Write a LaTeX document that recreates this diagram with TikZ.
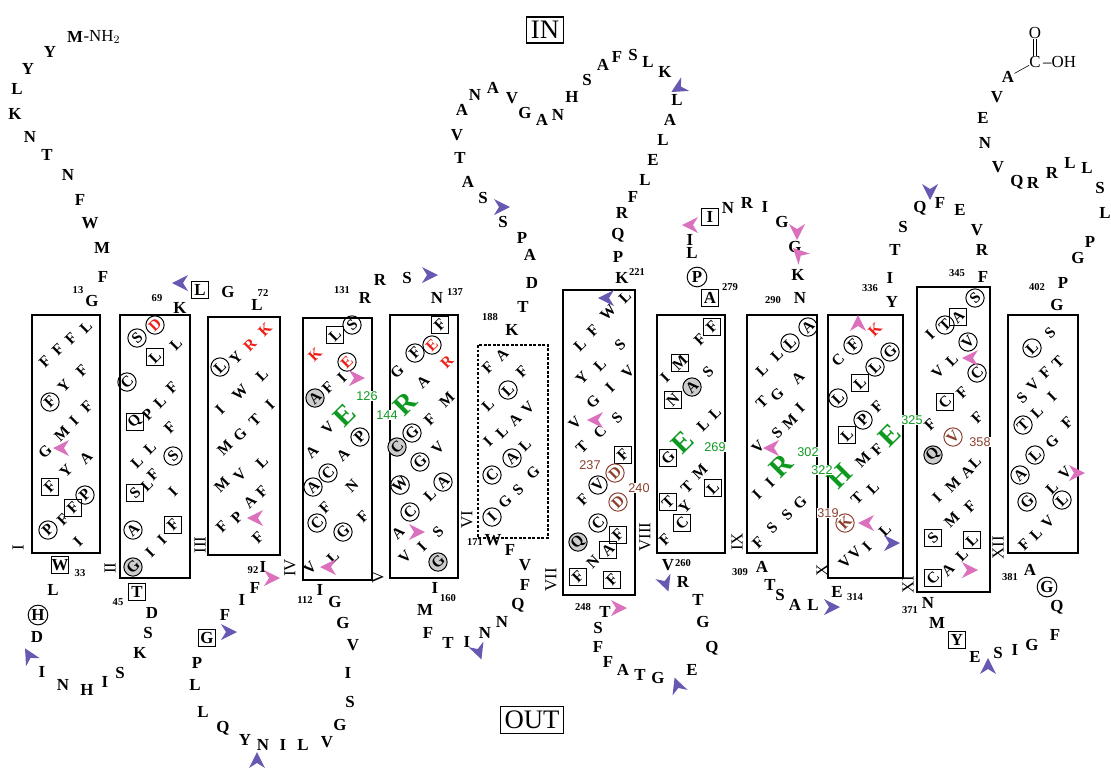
\documentclass[tikz,border=0pt]{standalone}
\usepackage{fontspec}
\setmainfont{Liberation Serif}
\newfontfamily\labelsans{Liberation Sans}
\usetikzlibrary{calc}
\definecolor{SiteClr}{rgb}{0.40,0.35,0.70}
\definecolor{PinkClr}{rgb}{0.86,0.44,0.74}
\definecolor{KeyClr}{rgb}{0.05,0.60,0.12}
\definecolor{ChargeClr}{rgb}{0.93,0.12,0.10}
\definecolor{AcidClr}{rgb}{0.55,0.25,0.18}

\tikzset{
  res/.style={font=\fontsize{12}{12}\selectfont\bfseries,inner sep=0pt},
  tmres/.style={res,font=\fontsize{11}{11}\selectfont\bfseries,rotate=45},
  ring/.style={tmres,circle,draw,line width=.7pt,minimum size=13pt},
  grayring/.style={ring,fill=black!20},
  sqbox/.style={draw,line width=.7pt,minimum size=12pt,inner sep=0pt},
  loopring/.style={res,circle,draw,line width=.7pt,minimum size=14pt},
  num/.style={font=\fontsize{7.5}{8}\selectfont\bfseries,inner sep=0pt},
  keyres/.style={tmres,text=KeyClr,font=\fontsize{20}{20}\selectfont\bfseries},
  keynum/.style={font={\labelsans\fontsize{9}{9}\selectfont},text=KeyClr,fill=white,inner sep=.5pt},
  acidnum/.style={keynum,text=AcidClr},
  helix/.style={line width=1.8pt},
  roman/.style={font=\fontsize{12}{12}\selectfont,rotate=90,inner sep=0pt},
  sidebox/.style={draw,line width=.8pt,font=\fontsize{19}{19}\selectfont,inner sep=3pt},
  site/.pic={\fill (0,-10) -- (8,6) -- (0,1) -- (-8,6) -- cycle;}
}

\begin{document}
\begin{tikzpicture}[x=0.025cm,y=-0.025cm]
\useasboundingbox (0,0) rectangle (1111,771);

\node[sidebox] (in) at (545,30) {IN};
\node[sidebox] (out) at (532,720) {OUT};

% helices
\foreach \l/\t/\r/\b in {32/315/100/553,120/315/190/578,208/317/280/555,303/318/372/580,
  390/315/458/578,563/290/635/595,657/315/725/553,747/315/817/553,828/315/903/578,
  917/287/990/592,1008/315/1078/553}
  \draw[helix] (\l,\t) rectangle (\r,\b);
\draw[helix,dash pattern=on 2pt off 1.2pt] (478,345) rectangle (548,538);

\foreach \x/\y/\t in {18/548/I,110/568/II,200/545/III,290/568/IV,378/577/V,467/520/VI,
  551/580/VII,645/537/VIII,737/542/IX,822/570/X,908/585/XI,998/548/XII}
  \node[roman] (h\t) at (\x,\y) {\t};

% termini
\node[res] (nterm) at (75,37) {M};
\node[anchor=west,inner sep=0pt,font=\fontsize{12}{12}\selectfont] (nh) at (nterm.east) {-NH$_2$};
\node[res] (cterm) at (1008,77) {A};
\node[inner sep=0pt,font=\fontsize{12}{12}\selectfont] (cc) at (1035,62) {C};
\node[inner sep=0pt,font=\fontsize{12}{12}\selectfont] (co) at (1035,33) {O};
\node[anchor=west,inner sep=0pt,font=\fontsize{12}{12}\selectfont] (oh) at ($(cc.east)+(2,0)$) {--OH};
\draw[thin] (cterm) -- (cc);
\draw[thin,double,double distance=1.4pt] (co) -- (cc);

% loop residues
\foreach \x/\y/\t [count=\i] in {50/52/Y,28/69/Y,17/89/L,15/114/K,30/137/N,47/155/T,68/175/N,
  80/200/F,90/223/W,102/248/M,103/277/F,92/301/G,
  53/590/L,37/637/D,42/672/I,63/685/N,87/690/H,105/682/I,120/673/S,140/653/K,148/633/S,152/613/D,
  180/308/K,228/292/G,257/305/L,
  263/567/I,255/588/F,242/600/I,225/615/F,197/663/P,195/685/L,203/712/L,223/728/Q,245/740/Y,
  263/745/N,283/745/I,303/745/L,327/742/V,340/725/G,350/702/S,348/673/I,353/645/V,343/623/G,
  335/602/G,320/590/I,
  365/298/R,380/280/R,407/278/S,437/298/N,
  435/588/I,425/610/M,428/633/F,448/643/T,467/642/I,485/633/N,502/622/N,518/605/Q,525/585/F,
  525/565/V,510/550/F,493/540/W,
  512/330/K,523/307/T,532/283/D,530/255/A,522/238/P,503/222/S,483/198/S,468/182/A,460/158/T,
  457/135/V,462/110/A,475/95/N,493/88/A,512/98/V,525/113/G,542/120/A,558/115/N,572/97/H,
  587/80/S,603/65/A,617/57/F,633/55/S,648/62/L,665/72/K,677/100/L,670/120/A,663/140/L,
  653/160/E,645/180/L,633/197/F,622/213/R,618/235/Q,618/257/P,622/278/K,
  605/612/T,598/628/S,598/647/F,608/662/F,623/670/A,640/675/T,658/678/G,692/670/E,712/648/Q,
  703/622/G,698/600/T,683/582/R,668/565/V,
  692/253/L,690/240/I,728/208/N,747/203/R,765/207/I,782/222/G,795/247/G,798/275/K,800/298/N,
  762/567/A,770/585/T,780/595/S,795/605/A,813/605/L,837/592/E,
  892/302/Y,890/278/I,895/250/T,903/227/S,920/208/Q,940/203/F,960/210/E,977/230/V,982/250/R,
  983/277/F,
  928/603/N,937/623/M,975/657/E,998/653/S,1015/650/I,1032/645/G,1055/635/F,1057/607/Q,1030/570/A,
  1057/305/G,1063/283/P,1078/258/G,1090/242/P,1105/213/L,1100/188/S,1087/168/L,1070/163/L,
  1052/173/R,1033/183/R,1017/182/Q,998/167/V,985/143/N,983/118/E,997/97/V}
  \node[res] (lp\i) at (\x,\y) {\t};
\foreach \x/\y/\t [count=\i] in {60/565/W,137/592/T,200/290/L,207/638/G,710/298/A,710/217/I,957/640/Y}
  \node[res,sqbox] (ls\i) at (\x,\y) {\t};
\foreach \x/\y/\t [count=\i] in {38/615/H,697/277/P,1047/587/G}
  \node[loopring] (lr\i) at (\x,\y) {\t};

% helix residues
\foreach \x/\y/\t [count=\i] in {45/362/F,58/350/F,71/339/F,86/327/L,64/386/Y,82/371/F,45/452/G,
  62/434/M,74/421/I,87/407/F,86/458/A,66/471/Y,63/520/F,78/542/I,
  176/344/L,148/415/P,160/402/L,172/388/F,170/428/F,137/462/L,150/448/L,147/485/L,153/475/F,
  173/492/I,150/553/I,162/540/I,
  236/358/Y,220/410/I,240/393/W,262/375/L,225/448/M,240/435/G,255/420/T,270/405/I,222/485/M,
  240/475/V,262/462/L,222/527/F,237/518/P,250/502/A,262/492/F,258/538/F,
  342/378/I,328/388/F,328/428/V,312/452/A,343/455/A,325/508/F,352/486/N,363/517/F,333/557/L,
  310/568/V,
  397/372/G,423/382/A,430/420/F,447/400/M,438/448/V,430/495/L,398/533/A,438/532/S,422/547/I,
  405/557/V,
  488/368/F,502/355/A,488/405/L,522/372/F,488/442/I,502/432/L,515/420/A,528/408/V,525/445/L,
  505/502/G,518/490/S,533/473/G,
  580/345/L,593/331/F,608/313/W,625/297/L,582/378/Y,600/365/L,620/345/S,575/423/V,593/402/G,
  610/388/I,628/372/V,600/432/C,617/418/S,582/447/T,583/500/F,593/562/N,
  700/340/F,665/378/I,708/372/S,703/425/L,715/413/L,687/487/T,700/472/M,685/507/Y,665/540/F,
  777/355/L,762/370/L,762/402/T,777/395/G,798/378/A,758/447/V,777/433/S,790/422/M,800/408/I,
  757/495/I,770/483/I,758/543/F,772/528/S,787/515/S,800/503/G,
  838/360/C,877/407/F,863/460/M,877/450/F,857/498/T,873/488/L,845/562/V,855/553/V,867/547/I,
  885/530/L,
  930/335/I,938/372/V,952/360/L,962/393/F,930/425/F,977/418/F,975/462/L,967/472/A,953/485/M,
  937/498/I,970/507/F,952/520/M,948/570/A,962/555/L,
  1050/333/S,1022/398/S,1033/385/V,1045/373/F,1058/362/T,1037/412/L,1052/397/I,1052/442/G,
  1067/423/F,1052/488/L,1065/473/V,1024/545/F,1036/534/L,1048/522/V}
  \node[tmres] (tm\i) at (\x,\y) {\t};
\foreach \x/\y/\t [count=\i] in {50/402/F,85/495/P,48/530/P,137/338/S,127/382/C,173/456/S,
  133/530/A,220/367/L,328/473/C,360/437/P,313/487/A,317/523/C,343/532/G,352/325/S,415/353/F,
  412/433/G,420/462/G,400/485/W,443/482/A,410/512/C,508/390/L,492/475/C,512/458/A,492/517/I,
  598/485/V,598/523/C,808/327/A,790/343/L,853/345/F,890/352/G,875/367/L,838/398/L,863/420/P,
  975/298/S,945/325/T,968/342/V,977/373/C,1032/348/L,1023/425/T,1020/475/A,1035/455/L,
  1027/502/G,1062/500/L}
  \node[ring] (rg\i) at (\x,\y) {\t};
\foreach \x/\y/\t [count=\i] in {133/567/G,315/398/A,397/447/C,438/562/G,578/542/Q,692/387/A,933/455/Q}
  \node[grayring] (gr\i) at (\x,\y) {\t};
\foreach \x/\y/\t [count=\i] in {50/487/F,73/508/F,155/357/L,135/422/Q,135/493/S,173/525/F,
  335/335/L,440/325/F,623/455/F,618/535/F,608/550/A,578/577/F,612/580/F,712/327/F,680/363/M,
  673/400/N,668/458/G,713/488/L,668/502/T,682/523/C,860/383/L,847/435/L,958/317/A,945/402/C,
  933/538/S,972/540/L,933/578/C}
  {\node[sqbox] (sq\i) at (\x,\y) {};
   \node[tmres] (sqt\i) at (sq\i) {\t};}

% charged and key residues
\foreach \x/\y/\t [count=\i] in {250/345/R,265/330/K,315/355/K,447/362/R,875/330/K}
  \node[tmres,text=ChargeClr] (ch\i) at (\x,\y) {\t};
\foreach \x/\y/\t [count=\i] in {155/325/D,347/362/E,432/345/E}
  \node[ring,text=ChargeClr] (cr\i) at (\x,\y) {\t};
\foreach \x/\y/\t [count=\i] in {615/473/D,618/502/D,845/523/K,953/437/V}
  \node[ring,draw=AcidClr,text=AcidClr] (ac\i) at (\x,\y) {\t};
\foreach \x/\y/\t [count=\i] in {345/415/E,405/404/R,683/442/E,781/466/R,840/476/H,890/435/E}
  \node[keyres] (ky\i) at (\x,\y) {\t};
\foreach \x/\y/\t in {367/396/126,387/415/144,715/447/269,808/452/302,822/470/322,912/420/325}
  \node[keynum] (kn\t) at (\x,\y) {\t};
\foreach \x/\y/\t in {590/465/237,639/488/240,828/513/319,980/442/358}
  \node[acidnum] (an\t) at (\x,\y) {\t};

% residue numbers
\foreach \x/\y/\t in {78/290/13,80/573/33,118/602/45,157/298/69,263/293/72,253/570/92,
  305/600/112,342/290/131,455/292/137,448/598/160,475/542/171,490/317/188,637/272/221,
  583/607/248,683/563/260,730/287/279,773/300/290,740/572/309,855/597/314,870/288/336,
  957/273/345,910/610/371,1010/577/381,1037/287/402}
  \node[num] (n\t) at (\x,\y) {\t};

% modification sites
\foreach \x/\y/\r in {182/283/90,30/657/30,227/632/270,257/762/0,428/275/270,500/207/270,
  478/650/200,608/298/90,680/87/120,665/582/200,678/687/20,830/607/270,890/543/270,
  930/190/180,988/668/0}
  \pic[color=SiteClr,rotate=\r] at (\x,\y) {site};
\foreach \x/\y/\r in {63/448/90,257/518/90,270/578/270,355/378/270,330/567/90,415/532/270,
  597/420/90,617/608/270,692/225/90,797/230/180,800/255/45,773/448/90,858/325/0,868/523/90,
  972/358/90,968/570/270,1075/473/270}
  \pic[color=PinkClr,rotate=\r] at (\x,\y) {site};

\end{tikzpicture}
\end{document}
